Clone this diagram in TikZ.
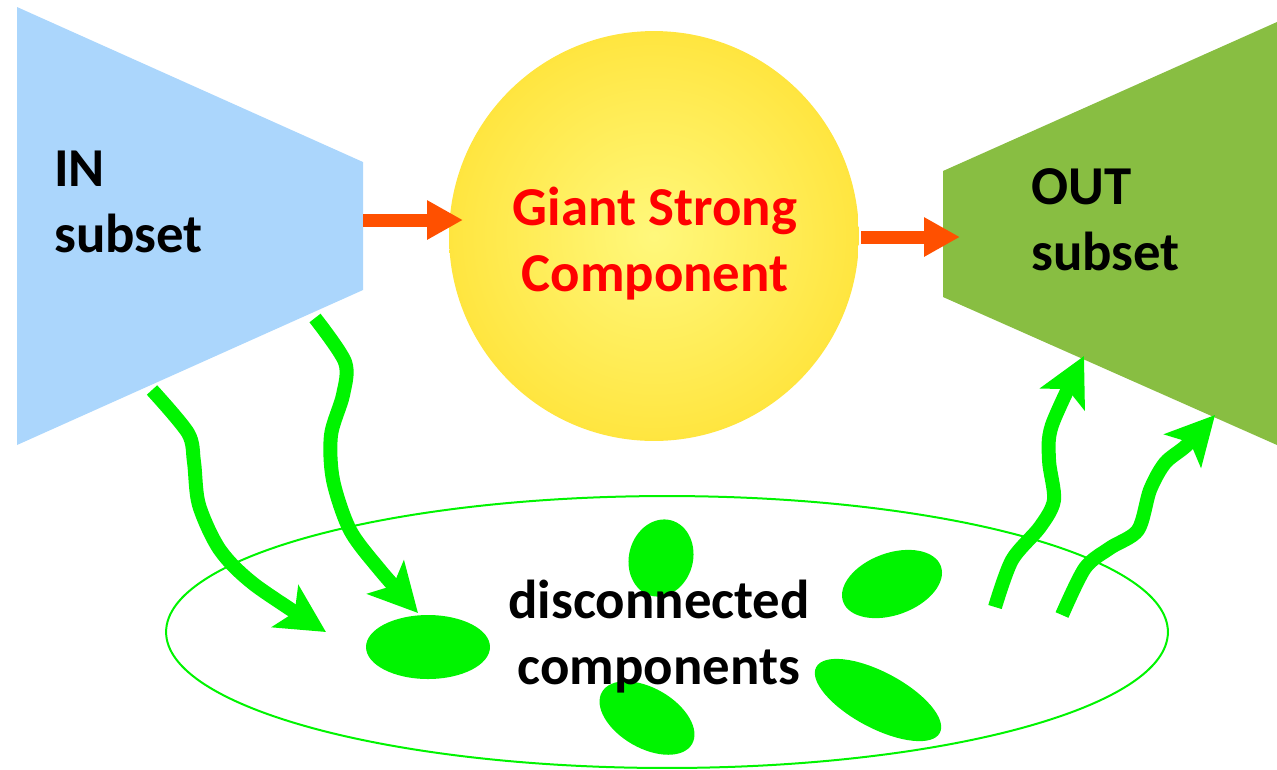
\documentclass[tikz,border=0pt]{standalone}
\usepackage{fontspec}
\setmainfont{Carlito}
\usepackage{xcolor}
\usepackage{tikz}
\usetikzlibrary{arrows.meta,positioning,shapes.geometric}
\definecolor{btIn}{HTML}{ABD6FC}
\definecolor{btOut}{HTML}{88BE42}
\definecolor{btFlow}{HTML}{FF5000}
\definecolor{btGreen}{HTML}{00F400}
\definecolor{btCore}{HTML}{FFF87C}
\definecolor{btMid}{HTML}{FFE642}
\definecolor{btEdge}{HTML}{FFD400}
\definecolor{btRed}{HTML}{FF0000}
\pgfdeclareradialshading{btglow}{\pgfpoint{0bp}{0bp}}{color(0bp)=(btCore); color(24bp)=(btMid); color(44bp)=(btEdge); color(50bp)=(btEdge)}
\tikzset{
  bt diagram/.style={x=0.02cm, y=-0.02cm,
    font=\bfseries\fontsize{31.2}{37.5}\selectfont, line join=round},
  bt label/.style={inner sep=0pt, align=left},
  bt core/.style={circle, minimum size=8.2cm, inner sep=0pt,
    shade, shading=btglow},
  bt flow/.style={-{Triangle[length=0.72cm, width=0.74cm]}, draw=btFlow,
    line width=0.26cm},
  bt wave/.style={-{Stealth[length=0.96cm, width=0.98cm, inset=0.22cm]},
    draw=btGreen, line width=0.28cm},
  bt pool/.style={ellipse, draw=btGreen, line width=0.04cm,
    minimum width=20.04cm, minimum height=5.44cm, inner sep=0pt},
  bt blob/.style={ellipse, fill=btGreen, inner sep=0pt}
}

\begin{document}
\begin{tikzpicture}[bt diagram]
\useasboundingbox (0,0) rectangle (1277,769);
% in and out sets
\fill[btIn] (17,7) -- (363,162) -- (363,290) -- (17,445) -- cycle;
\fill[btOut] (943,171) -- (1277,22) -- (1277,445) -- (943,297) -- cycle;
\node[bt label, anchor=west] (inLbl) at (54,202) {IN\\subset};
\node[bt label, anchor=west] (outLbl) at (1031,220) {OUT\\subset};
% giant strong component
\node[bt core] (gsc) at (654,236) {};
\node[bt label, align=center, text=btRed] (gscLbl) at (655,244) {Giant Strong\\Component};
\coordinate (inR) at (363,220);
\coordinate (gscIn) at (463,220);
\coordinate (gscOut) at (861,237);
\coordinate (outL) at (960,237);
\draw[bt flow] (inR) -- (gscIn);
\draw[bt flow] (gscOut) -- (outL);
% disconnected components
\node[bt pool] (pool) at (667,632) {};
\node[bt blob, minimum width=2.48cm, minimum height=1.28cm] (blobA) at (428,647) {};
\node[bt blob, minimum width=1.28cm, minimum height=1.56cm, rotate=-15] (blobB) at (661,558) {};
\node[bt blob, minimum width=2.08cm, minimum height=1.24cm, rotate=20] (blobC) at (892,584) {};
\node[bt blob, minimum width=2.08cm, minimum height=1.2cm, rotate=-30] (blobD) at (647,718) {};
\node[bt blob, minimum width=2.8cm, minimum height=1.12cm, rotate=-28] (blobE) at (878,700) {};
\node[bt label, align=center] (poolLbl) at (659,637) {disconnected\\components};
% wavy links
\coordinate (inA) at (152,390);
\coordinate (inB) at (315,318);
\coordinate (poolA) at (326,632);
\coordinate (poolB) at (418,613);
\coordinate (poolC) at (995,607);
\coordinate (poolD) at (1062,615);
\coordinate (outA) at (1084,356);
\coordinate (outB) at (1215,415);
\draw[bt wave] plot[smooth] coordinates {(inA) (188,433) (194,462) (199,505) (220,550) (255,585) (poolA)};
\draw[bt wave] plot[smooth] coordinates {(inB) (345,362) (343,395) (331,435) (333,480) (350,530) (380,570) (poolB)};
\draw[bt wave] plot[smooth] coordinates {(poolC) (1012,560) (1040,527) (1054,500) (1049,460) (1052,425) (outA)};
\draw[bt wave] plot[smooth] coordinates {(poolD) (1085,568) (1110,548) (1138,530) (1150,490) (1165,463) (1187,445) (outB)};
\end{tikzpicture}
\end{document}
